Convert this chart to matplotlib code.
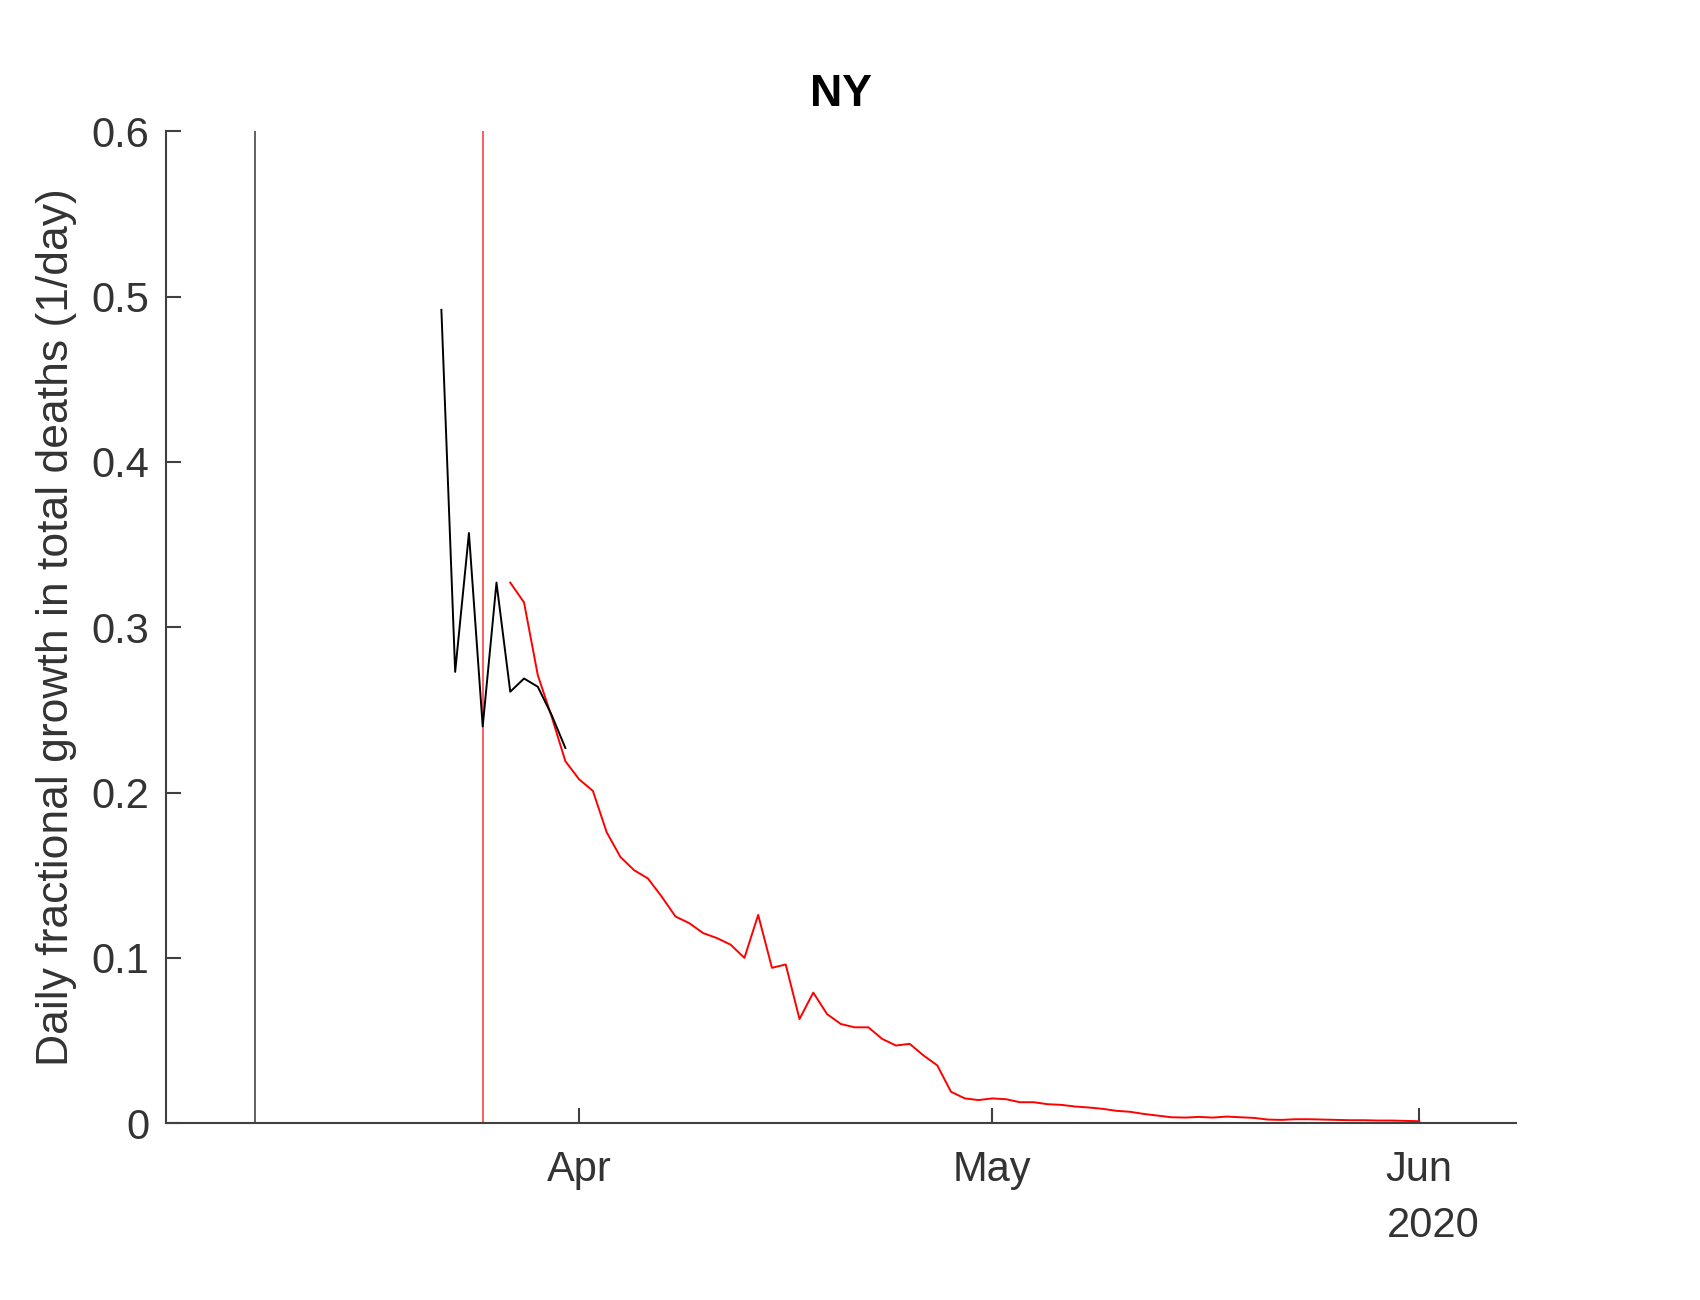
import datetime as dt
import matplotlib
matplotlib.use('Agg')
from matplotlib import pyplot as plt
import matplotlib.dates as mdates

plt.rcParams['font.family'] = ['Liberation Sans', 'DejaVu Sans']

# daily fractional growth in total deaths, NY
black_start = dt.datetime(2020, 3, 22)
black_vals = [0.492, 0.273, 0.357, 0.240, 0.327, 0.261, 0.269, 0.264, 0.247, 0.227]

red_start = dt.datetime(2020, 3, 27)
red_vals = [0.327, 0.315, 0.271, 0.246, 0.219, 0.208, 0.201, 0.176, 0.161, 0.153,
            0.148, 0.137, 0.125, 0.121, 0.115, 0.112, 0.108, 0.100, 0.126, 0.094,
            0.096, 0.063, 0.079, 0.066, 0.060, 0.058, 0.058, 0.051, 0.047, 0.048,
            0.041, 0.035, 0.019, 0.015, 0.014, 0.015,
            0.0145, 0.0127, 0.0127, 0.0115, 0.0111, 0.0101, 0.0095, 0.0087, 0.0075, 0.0069,
            0.0056, 0.0046, 0.0036, 0.0034, 0.0038, 0.0034, 0.0040, 0.0036, 0.0032, 0.0022,
            0.0020, 0.0024, 0.0024, 0.0022, 0.0020, 0.0018, 0.0018, 0.0016, 0.0016, 0.0014,
            0.0012]

black_dates = [black_start + dt.timedelta(days=i) for i in range(len(black_vals))]
red_dates = [red_start + dt.timedelta(days=i) for i in range(len(red_vals))]

gray_line_date = dt.datetime(2020, 3, 8, 12)
red_line_date = dt.datetime(2020, 3, 25)

fig = plt.figure(figsize=(17, 13), dpi=100)
ax = fig.add_axes([0.0976, 0.136, 0.794, 0.763])

ax.axvline(gray_line_date, color='#555555', lw=1.3)
ax.axvline(red_line_date, color='#ff5050', lw=1.3)
ax.plot(red_dates, red_vals, color='#ff0000', lw=1.4)
ax.plot(black_dates, black_vals, color='black', lw=1.4)

ax.set_xlim(dt.datetime(2020, 3, 2), dt.datetime(2020, 6, 8))
ax.set_ylim(0, 0.6)
ax.set_yticks([0, 0.1, 0.2, 0.3, 0.4, 0.5, 0.6])
ax.set_yticklabels(['0', '0.1', '0.2', '0.3', '0.4', '0.5', '0.6'])
ax.set_xticks([dt.datetime(2020, 4, 1), dt.datetime(2020, 5, 1), dt.datetime(2020, 6, 1)])
ax.xaxis.set_major_formatter(mdates.DateFormatter('%b'))

txt_color = '#333333'
for side in ['top', 'right']:
    ax.spines[side].set_visible(False)
for side in ['left', 'bottom']:
    ax.spines[side].set_color('#404040')
    ax.spines[side].set_linewidth(1.5)
ax.tick_params(direction='in', length=11, width=1.5, color='#404040',
               labelsize=30, labelcolor=txt_color)
ax.tick_params(axis='x', pad=19)
ax.tick_params(axis='y', pad=12)

ax.set_title('NY', fontsize=32, fontweight='bold', pad=18)
ax.set_ylabel('Daily fractional growth in total deaths (1/day)', fontsize=32, color=txt_color)
ax.yaxis.set_label_coords(-0.066, 0.5)

fig.text(0.843, 0.057, '2020', fontsize=30, color=txt_color, ha='center', va='center')

fig.savefig('out.png', dpi=100, facecolor='white')
